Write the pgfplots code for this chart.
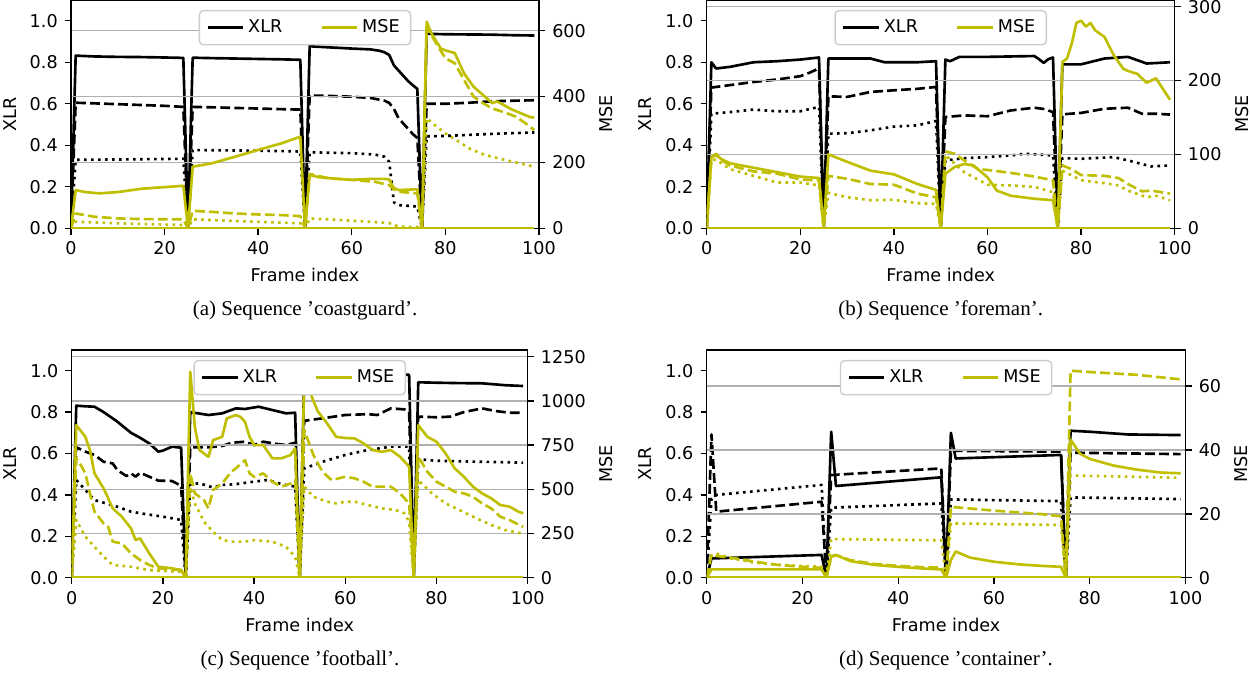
\documentclass[border=0pt]{standalone}
\usepackage{fontspec}
\setmainfont{DejaVu Sans}
\newfontfamily\capfont{Liberation Serif}
\usepackage{pgfplots}
\pgfplotsset{compat=1.18}
\definecolor{mpy}{rgb}{0.75,0.75,0}
\newcommand{\mplfont}{\fontsize{8.8}{10}\selectfont}
\pgfplotsset{
  base/.style={scale only axis, xmin=0, xmax=100, ymin=0,
    axis line style={line width=0.7pt},
    every tick/.style={black, line width=0.7pt},
    major tick length=3.1pt, tick align=outside,
    tick label style={font=\mplfont},
    label style={font=\mplfont},
    /pgf/number format/assume math mode=true,
    /pgf/number format/1000 sep={},
    every axis plot/.append style={line width=1.32pt, line join=round},
  },
  xlr/.style={base, ymax=1.1, xtick={0,20,40,60,80,100},
    ytick={0,0.2,0.4,0.6,0.8,1.0},
    yticklabel style={/pgf/number format/fixed, /pgf/number format/fixed zerofill, /pgf/number format/precision=1},
    xtick pos=left, ytick pos=left, xlabel={Frame index}, ylabel={XLR}},
  mse/.style={base, xtick=\empty, ytick pos=right, yticklabel pos=right,
    ylabel={MSE}, ymajorgrids, major grid style={black!31, line width=0.7pt},
    legend style={at={(0.5,1)}, yshift=-5pt, anchor=north, legend columns=2,
      draw=black!20, line width=0.7pt, rounded corners=2pt, fill=white, font=\mplfont,
      inner xsep=3.5pt, inner ysep=2.5pt,
      /tikz/every even column/.append style={column sep=17pt}},
    legend image code/.code={\draw[#1] (0pt,0pt) -- (17.6pt,0pt);}},
  sol/.style={solid},
  dsh/.style={dash pattern=on 4.9pt off 2.1pt},
  dot/.style={dash pattern=on 1.32pt off 2.18pt},
}
\begin{document}
\begin{tikzpicture}
\useasboundingbox (0,0) rectangle (625pt,338pt);
% ================= (a) coastguard =================
\begin{axis}[xlr, at={(35.5pt,223.85pt)}, anchor=south west, width=234pt, height=114.15pt]
\addplot[black, sol] coordinates {(0,0) (1,0.832) (5,0.828) (10,0.826) (15,0.825) (20,0.823) (24,0.821) (25,0) (26,0.822) (30,0.82) (35,0.818) (40,0.816) (45,0.814) (49,0.812) (50,0) (51,0.877) (55,0.872) (60,0.866) (64,0.862) (66,0.855) (67,0.848) (68,0.835) (69,0.785) (70,0.76) (71,0.735) (72,0.71) (73,0.69) (74,0.672) (75,0) (76,0.937) (80,0.935) (85,0.934) (90,0.933) (95,0.930) (99,0.929)};
\addplot[black, dsh] coordinates {(0,0) (1,0.605) (5,0.602) (10,0.598) (15,0.594) (20,0.59) (24,0.585) (25,0) (26,0.585) (30,0.583) (35,0.58) (40,0.577) (45,0.574) (49,0.572) (50,0) (51,0.64) (55,0.638) (60,0.634) (64,0.628) (67,0.615) (68,0.604) (69,0.575) (70,0.53) (71,0.505) (72,0.48) (73,0.455) (74,0.435) (75,0) (76,0.60) (80,0.60) (85,0.605) (90,0.612) (95,0.615) (99,0.617)};
\addplot[black, dot] coordinates {(0,0) (1,0.33) (12,0.332) (24,0.335) (25,0) (26,0.377) (35,0.375) (45,0.372) (49,0.37) (50,0) (51,0.366) (60,0.362) (65,0.355) (67,0.345) (68,0.32) (69,0.125) (70,0.112) (74,0.105) (75,0) (76,0.443) (80,0.445) (90,0.455) (99,0.462)};
\end{axis}
\begin{axis}[mse, at={(35.5pt,223.85pt)}, anchor=south west, width=234pt, height=114.15pt, ymax=693, ytick={0,200,400,600}]
\addlegendimage{black, line width=1.32pt}\addlegendentry{XLR}
\addplot[mpy, sol] coordinates {(0,0) (1,116) (3,110) (6,106) (10,110) (15,120) (20,125) (24,129) (25,0) (26,187) (30,197) (35,217) (40,238) (45,258) (49,278) (50,0) (51,162) (53,155) (57,150) (60,147) (64,150) (67,150) (68,148) (69,122) (70,116) (73,118) (74,118) (75,0) (76,627) (77,592) (79,546) (80,540) (81,536) (82,532) (84,470) (86,430) (88,405) (90,380) (91,385) (92,378) (94,362) (96,350) (98,338) (99,336)};
\addlegendentry{MSE}
\addplot[mpy, dsh, forget plot] coordinates {(0,0) (1,45) (3,40) (5,35) (10,30) (15,28) (24,27) (25,0) (26,53) (30,50) (35,45) (40,42) (45,40) (49,37) (50,0) (51,165) (55,152) (60,147) (65,141) (68,131) (69,118) (70,111) (74,106) (75,0) (76,612) (78,562) (80,516) (82,501) (84,450) (86,400) (88,380) (90,364) (93,350) (95,339) (97,320) (99,298)};
\addplot[mpy, dot, forget plot] coordinates {(0,0) (1,20) (10,15) (24,10) (25,0) (26,27) (35,22) (49,15) (50,0) (51,30) (60,23) (68,16) (70,5) (74,4) (75,0) (76,334) (78,310) (80,288) (83,262) (85,243) (88,225) (90,217) (95,200) (99,187)};
\addplot[mpy, sol, forget plot] coordinates {(0,0) (99,0)};
\end{axis}
% ================= (b) foreman =================
\begin{axis}[xlr, at={(353.35pt,223.85pt)}, anchor=south west, width=234pt, height=114.15pt]
\addplot[black, sol] coordinates {(0,0) (1,0.80) (2,0.77) (5,0.778) (10,0.80) (15,0.805) (20,0.813) (24,0.823) (25,0) (26,0.818) (30,0.818) (35,0.818) (38,0.80) (45,0.80) (49,0.805) (50,0) (51,0.813) (52,0.805) (54,0.826) (60,0.826) (70,0.83) (71,0.815) (72,0.797) (73,0.815) (74,0.823) (75,0) (76,0.79) (80,0.79) (85,0.818) (90,0.826) (94,0.794) (99,0.80)};
\addplot[black, dsh] coordinates {(0,0) (1,0.678) (5,0.69) (10,0.705) (15,0.717) (20,0.733) (22,0.75) (24,0.77) (25,0) (26,0.636) (30,0.633) (35,0.657) (40,0.665) (45,0.672) (49,0.681) (50,0) (51,0.536) (55,0.544) (60,0.54) (65,0.568) (70,0.581) (72,0.575) (74,0.56) (75,0) (76,0.549) (80,0.556) (85,0.576) (90,0.581) (93,0.552) (96,0.552) (99,0.548)};
\addplot[black, dot] coordinates {(0,0) (1,0.552) (5,0.56) (10,0.572) (15,0.564) (20,0.564) (24,0.585) (25,0) (26,0.456) (30,0.458) (35,0.472) (40,0.49) (45,0.496) (49,0.517) (50,0) (51,0.327) (55,0.338) (60,0.343) (65,0.351) (68,0.359) (74,0.351) (75,0) (76,0.338) (80,0.335) (87,0.343) (90,0.327) (95,0.298) (99,0.303)};
\end{axis}
\begin{axis}[mse, at={(353.35pt,223.85pt)}, anchor=south west, width=234pt, height=114.15pt, ymax=309, ytick={0,100,200,300}]
\addlegendimage{black, line width=1.32pt}\addlegendentry{XLR}
\addplot[mpy, sol] coordinates {(0,0) (1,96) (2,101) (3,94) (5,88) (10,82) (15,76) (20,70) (24,68) (25,0) (26,100) (30,90) (35,78) (40,73) (45,60) (49,52) (50,0) (51,74) (53,83) (55,87) (57,85) (60,69) (62,51) (65,44) (70,40) (74,38) (75,0) (76,225) (77,230) (78,250) (79,278) (80,281) (81,273) (82,278) (83,268) (85,259) (87,234) (89,216) (90,213) (92,209) (94,197) (96,203) (99,174)};
\addlegendentry{MSE}
\addplot[mpy, dsh, forget plot] coordinates {(0,0) (1,96) (2,99) (3,93) (5,85) (10,77) (15,74) (20,66) (24,65) (25,0) (26,71) (30,67) (35,60) (40,59) (45,47) (49,42) (50,0) (51,104) (53,101) (55,92) (58,80) (60,79) (65,75) (70,70) (74,65) (75,0) (76,85) (78,80) (80,72) (85,71) (88,68) (90,60) (93,50) (95,51) (99,47)};
\addplot[mpy, dot, forget plot] coordinates {(0,0) (1,92) (2,93) (5,80) (10,71) (15,62) (20,62) (24,58) (25,0) (26,48) (30,42) (35,38) (40,38.5) (45,34) (49,33) (50,0) (51,99) (55,76) (60,59) (65,58) (70,56) (74,49) (75,0) (76,78) (80,65) (85,61) (88,58) (90,51) (94,42) (96,44) (99,38)};
\addplot[mpy, sol, forget plot] coordinates {(0,0) (99,0)};
\end{axis}
% ================= (c) football =================
\begin{axis}[xlr, at={(35.85pt,49.15pt)}, anchor=south west, width=228pt, height=113.85pt]
\addplot[black, sol] coordinates {(0,0) (1,0.831) (3,0.828) (5,0.826) (7,0.80) (10,0.754) (13,0.70) (15,0.676) (17,0.649) (19,0.609) (20,0.614) (22,0.633) (24,0.628) (25,0) (26,0.80) (30,0.786) (33,0.794) (36,0.818) (38,0.815) (41,0.826) (44,0.81) (47,0.794) (49,0.797) (50,0) (51,0.98) (60,0.985) (70,0.985) (74,0.98) (75,0) (76,0.944) (80,0.942) (85,0.94) (90,0.939) (95,0.93) (99,0.926)};
\addplot[black, dsh] coordinates {(0,0) (1,0.63) (3,0.609) (5,0.593) (7,0.56) (9,0.552) (10,0.52) (12,0.491) (13,0.504) (14,0.488) (15,0.507) (17,0.488) (19,0.469) (22,0.467) (24,0.444) (25,0) (26,0.63) (30,0.63) (33,0.636) (35,0.652) (38,0.657) (40,0.641) (42,0.657) (45,0.646) (47,0.641) (49,0.652) (50,0) (51,0.758) (55,0.77) (60,0.786) (65,0.79) (67,0.786) (70,0.818) (73,0.813) (74,0.80) (75,0) (76,0.778) (80,0.775) (83,0.778) (86,0.80) (90,0.818) (93,0.805) (96,0.797) (99,0.797)};
\addplot[black, dot] coordinates {(0,0) (1,0.472) (3,0.424) (5,0.375) (8,0.356) (10,0.343) (13,0.319) (16,0.308) (20,0.295) (24,0.279) (25,0) (26,0.452) (28,0.456) (31,0.436) (33,0.448) (36,0.452) (40,0.464) (43,0.472) (46,0.452) (49,0.44) (50,0) (51,0.528) (55,0.56) (60,0.593) (65,0.617) (70,0.633) (74,0.633) (75,0) (76,0.572) (80,0.565) (90,0.56) (99,0.556)};
\end{axis}
\begin{axis}[mse, at={(35.85pt,49.15pt)}, anchor=south west, width=228pt, height=113.85pt, ymax=1288, ytick={0,250,500,750,1000,1250}]
\addlegendimage{black, line width=1.32pt}\addlegendentry{XLR}
\addplot[mpy, sol] coordinates {(0,0) (1,863) (3,797) (4,722) (5,590) (7,505) (9,392) (11,345) (13,279) (14,213) (15,222) (17,138) (19,62) (22,53) (24,43) (25,0) (26,1165) (27,854) (28,722) (30,684) (31,778) (33,797) (34,901) (36,920) (37,910) (38,882) (39,797) (40,750) (42,750) (44,675) (46,675) (48,694) (49,731) (50,0) (51,1130) (52,1070) (53,1000) (54,940) (56,873) (58,797) (60,790) (62,788) (64,760) (66,722) (68,712) (70,722) (72,684) (74,628) (75,0) (76,863) (78,797) (80,769) (82,703) (84,618) (86,571) (88,515) (90,477) (92,449) (94,411) (96,402) (98,373) (99,364)};
\addlegendentry{MSE}
\addplot[mpy, dsh, forget plot] coordinates {(0,0) (1,675) (2,637) (3,590) (4,477) (5,373) (7,307) (8,288) (9,204) (11,194) (13,138) (15,100) (17,72) (19,53) (22,47) (24,43) (25,0) (26,590) (27,477) (29,439) (30,392) (31,496) (33,533) (35,599) (36,618) (38,665) (39,590) (40,571) (42,590) (44,543) (46,515) (48,533) (49,552) (50,0) (51,835) (53,694) (55,599) (57,552) (60,571) (62,562) (64,543) (66,515) (70,515) (72,477) (74,420) (75,0) (76,684) (78,599) (80,543) (82,515) (84,486) (86,477) (88,458) (90,420) (92,392) (94,345) (96,326) (99,288)};
\addplot[mpy, dot, forget plot] coordinates {(0,0) (1,326) (3,232) (5,175) (7,119) (9,72) (13,62) (17,43) (24,34) (25,0) (26,515) (27,420) (29,317) (31,260) (33,213) (35,204) (38,204) (40,213) (44,204) (47,175) (49,119) (50,0) (51,515) (53,458) (56,430) (58,420) (60,430) (62,430) (65,411) (68,392) (71,383) (73,364) (74,317) (75,0) (76,552) (79,477) (82,420) (85,383) (88,345) (92,298) (95,270) (99,249)};
\addplot[mpy, sol, forget plot] coordinates {(0,0) (99,0)};
\end{axis}
% ================= (d) container =================
\begin{axis}[xlr, at={(353.35pt,49.15pt)}, anchor=south west, width=239.4pt, height=113.85pt]
\addplot[black, sol] coordinates {(0,0) (1,0.093) (24,0.11) (25,0) (26,0.705) (27,0.443) (49,0.485) (50,0) (51,0.70) (52,0.576) (74,0.593) (75,0) (76,0.71) (80,0.705) (88,0.692) (99,0.689)};
\addplot[black, dsh] coordinates {(0,0) (1,0.692) (2,0.319) (24,0.367) (25,0) (26,0.496) (49,0.528) (50,0) (51,0.613) (74,0.609) (75,0) (76,0.604) (99,0.597)};
\addplot[black, dot] coordinates {(0,0) (1,0.38) (2,0.40) (24,0.448) (25,0) (26,0.338) (49,0.359) (50,0) (51,0.378) (74,0.370) (75,0) (76,0.388) (99,0.38)};
\end{axis}
\begin{axis}[mse, at={(353.35pt,49.15pt)}, anchor=south west, width=239.4pt, height=113.85pt, ymax=71.3, ytick={0,20,40,60}]
\addlegendimage{black, line width=1.32pt}\addlegendentry{XLR}
\addplot[mpy, sol] coordinates {(0,0) (1,2.6) (24,2.6) (25,0) (26,6.8) (27,7.1) (30,5.2) (35,4.0) (40,3.4) (45,2.9) (49,2.6) (50,0) (51,5.5) (52,8.2) (55,6.3) (60,5.0) (65,4.2) (70,3.7) (74,3.4) (75,0) (76,43.2) (78,38.8) (80,37.2) (85,35.1) (90,33.8) (95,32.9) (99,32.7)};
\addlegendentry{MSE}
\addplot[mpy, dsh, forget plot] coordinates {(0,0) (1,7.3) (2,6.8) (5,6.3) (10,5) (15,4) (20,3.4) (24,3.1) (25,0) (26,6.5) (27,7.1) (30,5.5) (35,4.3) (40,3.7) (45,3.3) (49,3.2) (50,0) (51,22.2) (60,21) (70,19.9) (74,19.2) (75,0) (76,64.8) (80,64.4) (90,63.5) (99,62.1)};
\addplot[mpy, dot, forget plot] coordinates {(0,0) (1,6.8) (2,7.6) (5,6.1) (10,4.7) (15,4) (24,3.4) (25,0) (26,12.1) (49,11.7) (50,0) (51,17) (74,16.5) (75,0) (76,32) (99,31.3)};
\addplot[mpy, sol, forget plot] coordinates {(0,0) (99,0)};
\end{axis}
% ================= captions =================
\node[font=\capfont\fontsize{10.5}{12}\selectfont] at (152.5pt,183pt) {(a) Sequence ’coastguard’.};
\node[font=\capfont\fontsize{10.5}{12}\selectfont] at (470.35pt,183pt) {(b) Sequence ’foreman’.};
\node[font=\capfont\fontsize{10.5}{12}\selectfont] at (150pt,8pt) {(c) Sequence ’football’.};
\node[font=\capfont\fontsize{10.5}{12}\selectfont] at (473pt,8pt) {(d) Sequence ’container’.};
\end{tikzpicture}
\end{document}
